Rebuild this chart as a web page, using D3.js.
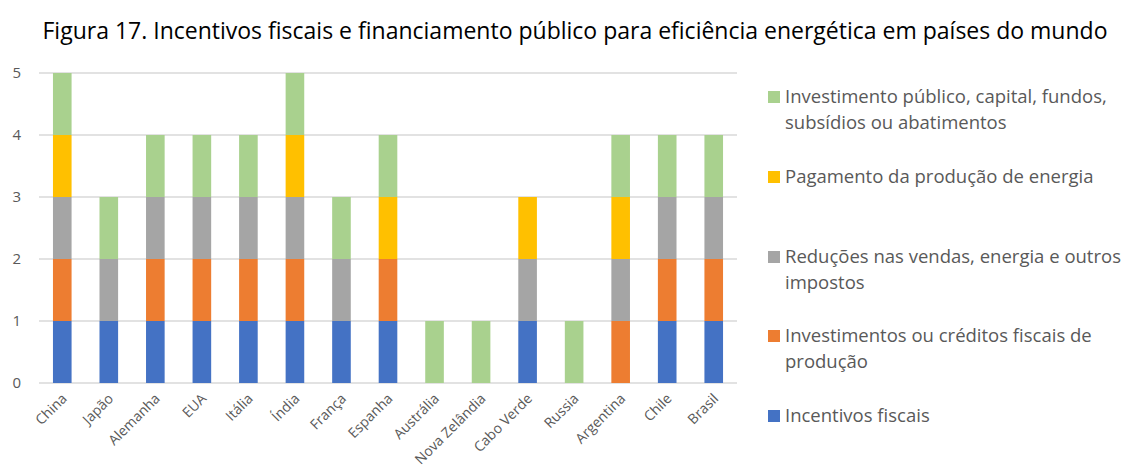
<!DOCTYPE html>
<html>
<head>
<meta charset="utf-8">
<script src="https://d3js.org/d3.v7.min.js"></script>
<style>
  body { margin: 0; background: #fff; }
  text { font-family: "Open Sans", Lato, sans-serif; }
</style>
</head>
<body>
<svg width="1124" height="468"></svg>
<script>
var svg = d3.select("svg"),
  width = +svg.attr("width"),
  height = +svg.attr("height");

var countries = ["China", "Japão", "Alemanha", "EUA", "Itália", "Índia", "França", "Espanha",
  "Austrália", "Nova Zelândia", "Cabo Verde", "Russia", "Argentina", "Chile", "Brasil"];

// series, bottom to top
var seriesNames = [
  "Incentivos fiscais",
  "Investimentos ou créditos fiscais de produção",
  "Reduções nas vendas, energia e outros impostos",
  "Pagamento da produção de energia",
  "Investimento público, capital, fundos, subsídios ou abatimentos"
];
var incentivos   = [1, 1, 1, 1, 1, 1, 1, 1, 0, 0, 1, 0, 0, 1, 1];
var creditos     = [1, 0, 1, 1, 1, 1, 0, 1, 0, 0, 0, 0, 1, 1, 1];
var reducoes     = [1, 1, 1, 1, 1, 1, 1, 0, 0, 0, 1, 0, 1, 1, 1];
var pagamento    = [1, 0, 0, 0, 0, 1, 0, 1, 0, 0, 1, 0, 1, 0, 0];
var investimento = [1, 1, 1, 1, 1, 1, 1, 1, 1, 1, 0, 1, 1, 1, 1];
var colors = ["#4472C4", "#ED7D31", "#A5A5A5", "#FFC000", "#A9D18E"];
var yTicks = [0, 1, 2, 3, 4, 5];

// legend order (top to bottom) with wrapped lines
var legendLines = [
  ["Investimento público, capital, fundos,", "subsídios ou abatimentos"],
  ["Pagamento da produção de energia"],
  ["Reduções nas vendas, energia e outros", "impostos"],
  ["Investimentos ou créditos fiscais de", "produção"],
  ["Incentivos fiscais"]
];
var legendY = [97, 177, 257, 336, 416];

var table = countries.map(function (c, i) {
  return { country: c, s0: incentivos[i], s1: creditos[i], s2: reducoes[i], s3: pagamento[i], s4: investimento[i] };
});
var keys = ["s0", "s1", "s2", "s3", "s4"];
var stacked = d3.stack().keys(keys)(table);

var plotLeft = 39, plotRight = 737, plotTop = 73, plotBottom = 383;

var x = d3.scaleBand().domain(countries).range([plotLeft, plotRight]).paddingInner(0.6).paddingOuter(0.3);
var y = d3.scaleLinear().domain([0, 5]).range([plotBottom, plotTop]);

svg.append("text")
  .attr("x", 575)
  .attr("y", 39)
  .attr("text-anchor", "middle")
  .style("font-size", "23px")
  .style("fill", "#000")
  .text("Figura 17. Incentivos fiscais e financiamento público para eficiência energética em países do mundo");

// gridlines
svg.append("g")
  .selectAll("line")
  .data(yTicks)
  .enter()
  .append("line")
  .attr("x1", plotLeft)
  .attr("x2", plotRight)
  .attr("y1", function (d) { return y(d); })
  .attr("y2", function (d) { return y(d); })
  .style("stroke", "#d9d9d9")
  .attr("stroke-width", 1.3);

svg.append("g")
  .selectAll("text")
  .data(yTicks)
  .enter()
  .append("text")
  .attr("x", 21)
  .attr("y", function (d) { return y(d); })
  .attr("dy", "0.35em")
  .attr("text-anchor", "end")
  .style("font-size", "15px")
  .style("fill", "#595959")
  .text(function (d) { return d; });

// bars
svg.append("g")
  .selectAll("g")
  .data(stacked)
  .enter()
  .append("g")
  .style("fill", function (d, i) { return colors[i]; })
  .selectAll("rect")
  .data(function (d) { return d; })
  .enter()
  .append("rect")
  .attr("x", function (d) { return x(d.data.country); })
  .attr("width", x.bandwidth())
  .attr("y", function (d) { return y(d[1]); })
  .attr("height", function (d) { return y(d[0]) - y(d[1]); });

// x labels
svg.append("g")
  .selectAll("text")
  .data(countries)
  .enter()
  .append("text")
  .attr("transform", function (d) {
    return "translate(" + (x(d) + x.bandwidth() / 2 + 2) + "," + 396 + ") rotate(-45)";
  })
  .attr("text-anchor", "end")
  .attr("dy", "0.35em")
  .style("font-size", "14px")
  .style("fill", "#595959")
  .text(function (d) { return d; });

// legend
var legend = svg.append("g")
  .selectAll("g")
  .data(legendLines)
  .enter()
  .append("g")
  .attr("transform", function (d, i) { return "translate(768," + legendY[i] + ")"; });

legend.append("rect")
  .attr("x", 0)
  .attr("y", -6)
  .attr("width", 12)
  .attr("height", 12)
  .style("fill", function (d, i) { return colors[4 - i]; });

legend.selectAll("text")
  .data(function (d) { return d; })
  .enter()
  .append("text")
  .attr("x", 17)
  .attr("y", function (d, j) { return j * 26; })
  .attr("dy", "0.35em")
  .style("font-size", "18.5px")
  .style("fill", "#595959")
  .text(function (d) { return d; });
</script>
</body>
</html>
